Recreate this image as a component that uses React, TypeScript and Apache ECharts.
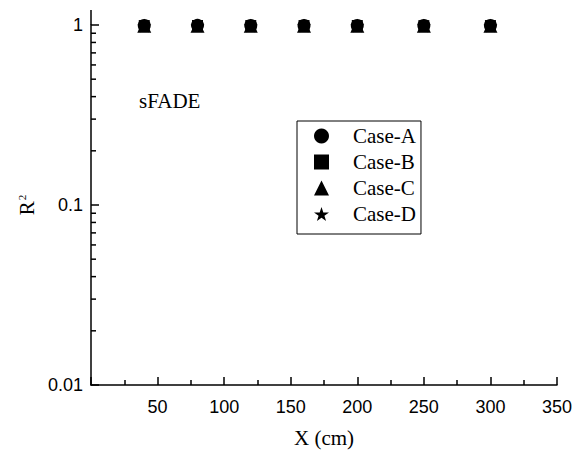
import React, { useEffect, useRef } from "react";
import * as echarts from "echarts";

const xValues = [40, 80, 120, 160, 200, 250, 300];
const caseA = [0.995, 0.996, 0.995, 0.994, 0.995, 0.994, 0.995];
const caseB = [0.993, 0.994, 0.993, 0.993, 0.994, 0.992, 0.993];
const caseC = [0.991, 0.992, 0.991, 0.990, 0.991, 0.990, 0.991];
const caseD = [0.990, 0.991, 0.990, 0.989, 0.990, 0.989, 0.990];
const seriesNames = ["Case-A", "Case-B", "Case-C", "Case-D"];
const yMinorTicks = [0.02, 0.03, 0.04, 0.05, 0.06, 0.07, 0.08, 0.09, 0.2, 0.3, 0.4, 0.5, 0.6, 0.7, 0.8, 0.9];

const SANS = '"Liberation Sans", Arial, sans-serif';
const SERIF = '"Liberation Serif", "Times New Roman", serif';
const STAR = "path://M50,0 L61.8,35.1 L98.1,35.1 L68.8,56.7 L79.4,90.9 L50,69.8 L20.6,90.9 L31.2,56.7 L1.9,35.1 L38.2,35.1 Z";

export default function App() {
  const ref = useRef<HTMLDivElement>(null);
  useEffect(() => {
    if (!ref.current) return;
    const chart = echarts.init(ref.current, null, { renderer: "svg" });
    const gridLeft = 91;
    const gridTop = 25;
    const mk = (name: string, vals: number[], symbol: string, size: number) => ({
      name,
      type: "scatter",
      symbol,
      symbolSize: size,
      symbolKeepAspect: true,
      itemStyle: { color: "#000", opacity: 1 },
      data: xValues.map((x, i) => [x, vals[i]]),
      z: 3,
    });
    chart.setOption({
      animation: false,
      backgroundColor: "#fff",
      grid: { left: gridLeft, right: 21, top: gridTop, bottom: 64 },
      legend: {
        left: 297,
        top: 121,
        orient: "vertical",
        data: seriesNames,
        borderColor: "#000",
        borderWidth: 1,
        borderRadius: 0,
        padding: [4, 5, 9, 17],
        itemGap: 4,
        itemWidth: 15,
        itemHeight: 15,
        symbolKeepAspect: true,
        itemStyle: { opacity: 1 },
        textStyle: { fontFamily: SERIF, fontSize: 21, color: "#000", lineHeight: 22, padding: [0, 0, 0, 19] },
      },
      xAxis: {
        type: "value",
        min: 0,
        max: 350,
        interval: 50,
        name: "X (cm)",
        nameLocation: "middle",
        nameGap: 42,
        nameTextStyle: { fontFamily: SERIF, fontSize: 21, color: "#000" },
        axisLine: { show: true, lineStyle: { color: "#000", width: 1.5 } },
        axisTick: { show: true, inside: true, length: 8, lineStyle: { color: "#000", width: 1.5 } },
        minorTick: { show: true, splitNumber: 2, length: 5, lineStyle: { color: "#000", width: 1.5 } },
        splitLine: { show: false },
        axisLabel: {
          fontFamily: SANS,
          fontSize: 18,
          color: "#000",
          margin: 13,
          formatter: (v: number) => (v === 0 ? "" : String(v)),
        },
      },
      yAxis: {
        type: "log",
        logBase: 10,
        min: 0.01,
        max: 1,
        name: "{a|R}{b|2}",
        nameLocation: "middle",
        nameGap: 42,
        nameRotate: 90,
        nameTextStyle: {
          rich: {
            a: { fontFamily: SERIF, fontSize: 21, color: "#000" },
            b: { fontFamily: SERIF, fontSize: 11, color: "#000", verticalAlign: "top", padding: [0, 0, 8, 1] },
          },
        },
        axisLine: { show: true, lineStyle: { color: "#000", width: 1.5 } },
        axisTick: { show: true, inside: true, length: 8, lineStyle: { color: "#000", width: 1.5 } },
        splitLine: { show: false },
        axisLabel: {
          fontFamily: SANS,
          fontSize: 18,
          color: "#000",
          margin: 8,
          formatter: (v: number) => String(v),
        },
      },
      graphic: [
        {
          type: "line",
          shape: { x1: gridLeft, y1: 10, x2: gridLeft, y2: gridTop },
          style: { stroke: "#000", lineWidth: 1.5 },
        },
        {
          type: "text",
          left: 139,
          top: 90,
          style: { text: "sFADE", font: `21px ${SERIF}`, fill: "#000" },
        },
      ],
      series: [
        {
          type: "custom",
          name: "yMinorTicks",
          coordinateSystem: "cartesian2d",
          silent: true,
          clip: false,
          z: 10,
          encode: { x: 0, y: 1 },
          data: yMinorTicks.map((v) => [0, v]),
          renderItem: (_p: any, api: any) => {
            const pt = api.coord([api.value(0), api.value(1)]);
            return {
              type: "line",
              shape: { x1: pt[0], y1: pt[1], x2: pt[0] + 5, y2: pt[1] },
              style: { stroke: "#000", lineWidth: 1.5 },
            };
          },
        },
        mk("Case-A", caseA, "circle", 13),
        mk("Case-B", caseB, "rect", 11),
        mk("Case-C", caseC, "triangle", 14),
        mk("Case-D", caseD, STAR, 14),
      ],
    });
    return () => chart.dispose();
  }, []);
  return <div ref={ref} style={{ position: "fixed", left: 0, top: 0, width: 578, height: 453 }} />;
}
